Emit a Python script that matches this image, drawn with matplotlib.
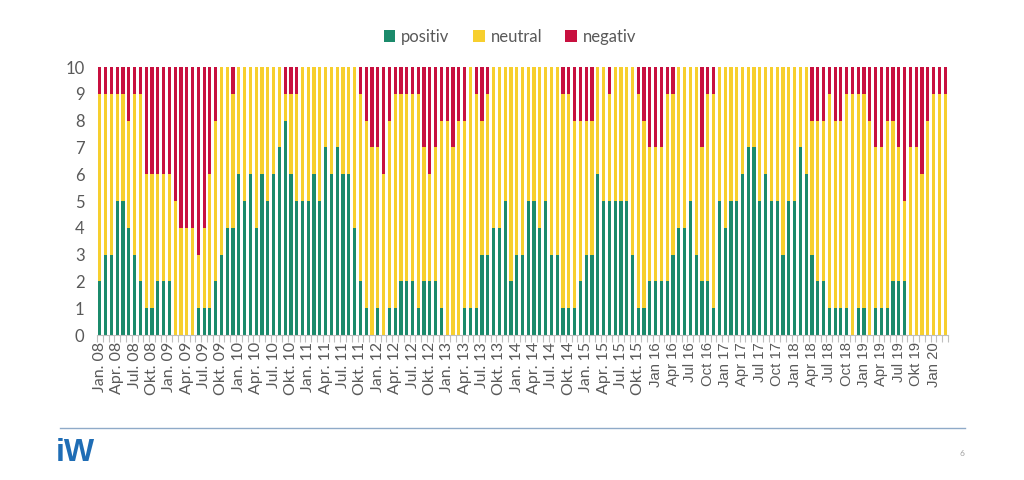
import matplotlib
matplotlib.use("Agg")
import matplotlib.pyplot as plt
from matplotlib.lines import Line2D
from matplotlib.patches import Patch
import numpy as np

plt.rcParams['font.family'] = ['Lato', 'DejaVu Sans']

# Monthly counts, Jan 2008 - Mar 2020
positiv = [2,3,3,5,5,4,3,2,1,1,2,2,2,0,0,0,0,1,1,1,2,3,4,4,6,
           5,6,4,6,5,6,7,8,6,5,5,5,6,5,7,6,7,6,6,4,2,1,0,
           1,0,1,1,2,2,2,1,2,2,2,1,0,0,0,1,1,1,3,3,4,4,5,2,3,
           3,5,5,4,5,3,3,1,1,1,2,3,3,6,5,5,5,5,5,3,1,1,2,2,
           2,2,3,4,4,5,3,2,2,1,5,4,5,5,6,7,7,5,6,5,5,3,5,5,
           7,6,3,2,2,1,1,1,1,0,1,1,0,1,1,1,2,2,2,0,0,0,0,0,0,0]
neutral = [7,6,6,4,4,4,6,7,5,5,4,4,4,5,4,4,4,2,3,5,6,7,6,5,4,
           5,4,6,4,5,4,3,1,3,4,5,5,4,5,3,4,3,4,4,6,7,7,7,
           6,6,7,8,7,7,7,8,5,4,5,7,8,7,8,7,9,8,5,6,6,6,5,8,7,
           7,5,5,6,5,7,7,8,8,7,6,5,5,4,5,4,5,5,5,7,8,7,5,5,
           5,7,6,6,6,5,7,5,7,8,5,6,5,5,4,3,3,5,4,5,5,7,5,5,
           3,4,5,6,6,8,7,7,8,9,8,8,8,6,6,7,6,5,3,7,7,6,8,9,9,9]
negativ = [1,1,1,1,1,2,1,1,4,4,4,4,4,5,6,6,6,7,6,4,2,0,0,1,0,
           0,0,0,0,0,0,0,1,1,1,0,0,0,0,0,0,0,0,0,0,1,2,3,
           3,4,2,1,1,1,1,1,3,4,3,2,2,3,2,2,0,1,2,1,0,0,0,0,0,
           0,0,0,0,0,0,0,1,1,2,2,2,2,0,0,1,0,0,0,0,1,2,3,3,
           3,1,1,0,0,0,0,3,1,1,0,0,0,0,0,0,0,0,0,0,0,0,0,0,
           0,0,2,2,2,1,2,2,1,1,1,1,2,3,3,2,2,3,5,3,3,4,2,1,1,1]

tick_labels = ["Jan. 08","Apr. 08","Jul. 08","Okt. 08",
               "Jan. 09","Apr. 09","Jul. 09","Okt. 09",
               "Jan. 10","Apr. 10","Jul. 10","Okt. 10",
               "Jan. 11","Apr. 11","Jul. 11","Okt. 11",
               "Jan. 12","Apr. 12","Jul. 12","Okt. 12",
               "Jan. 13","Apr. 13","Jul. 13","Okt. 13",
               "Jan. 14","Apr. 14","Jul. 14","Okt. 14",
               "Jan. 15","Apr. 15","Jul. 15","Okt. 15",
               "Jan 16","Apr 16","Jul 16","Oct 16",
               "Jan 17","Apr 17","Jul 17","Oct 17",
               "Jan 18","Apr 18","Jul 18","Oct 18",
               "Jan 19","Apr 19","Jul 19","Okt 19",
               "Jan 20"]
series_names = ["positiv", "neutral", "negativ"]
colors = ["#1B8A6B", "#F7CF2E", "#C8103F"]

fig = plt.figure(figsize=(10.24, 4.8), dpi=100)
ax = fig.add_axes([97/1024, 145/480, (948-97)/1024, (335-67)/480])

n = len(positiv)
x = np.arange(n)
pos = np.array(positiv); neu = np.array(neutral); neg = np.array(negativ)
w = 0.55
ax.bar(x, pos, width=w, color=colors[0], linewidth=0)
ax.bar(x, neu, width=w, bottom=pos, color=colors[1], linewidth=0)
ax.bar(x, neg, width=w, bottom=pos+neu, color=colors[2], linewidth=0)

ax.set_xlim(-0.5, n-0.5)
ax.set_ylim(0, 10)
ax.set_yticks(range(0, 11))
ax.tick_params(axis='y', length=0, pad=9, labelsize=12, labelcolor='#595959')
for s in ['top', 'right', 'left']:
    ax.spines[s].set_visible(False)
ax.spines['bottom'].set_color('#BFBFBF')

tick_pos = np.arange(len(tick_labels)) * 3
ax.set_xticks(tick_pos)
ax.set_xticklabels(tick_labels, rotation=90)
for lbl, t in zip(ax.get_xticklabels(), tick_labels):
    if '.' not in t:
        lbl.set_fontfamily(['Liberation Sans', 'DejaVu Sans'])
        lbl.set_fontsize(10.7)
    else:
        lbl.set_fontsize(11.5)
ax.tick_params(axis='x', which='major', length=0, pad=5, labelcolor='#595959')
ax.set_xticks(np.arange(n+1) - 0.5, minor=True)
ax.tick_params(axis='x', which='minor', length=5, color='#BFBFBF', width=0.8)

handles = [Patch(facecolor=c, edgecolor='none') for c in colors]
fig.legend(handles, series_names, loc='center', bbox_to_anchor=(510/1024, 1-37/480),
           ncol=3, frameon=False, fontsize=12, handlelength=0.7, handleheight=0.7,
           handletextpad=0.35, columnspacing=1.4, labelcolor='#595959')

fig.add_artist(Line2D([60/1024, 965/1024], [1-428/480, 1-428/480], color='#8FAAC8', linewidth=1))
fig.text(56/1024, 1-453/480, "iW", fontsize=23, fontweight='bold', color='#1F6DB5',
         va='center', ha='left', family=['Liberation Sans', 'DejaVu Sans'])
fig.text(962/1024, 1-453/480, "6", fontsize=6, color='#A0A0A0', va='center', ha='center')

fig.savefig("out.png", dpi=100)
